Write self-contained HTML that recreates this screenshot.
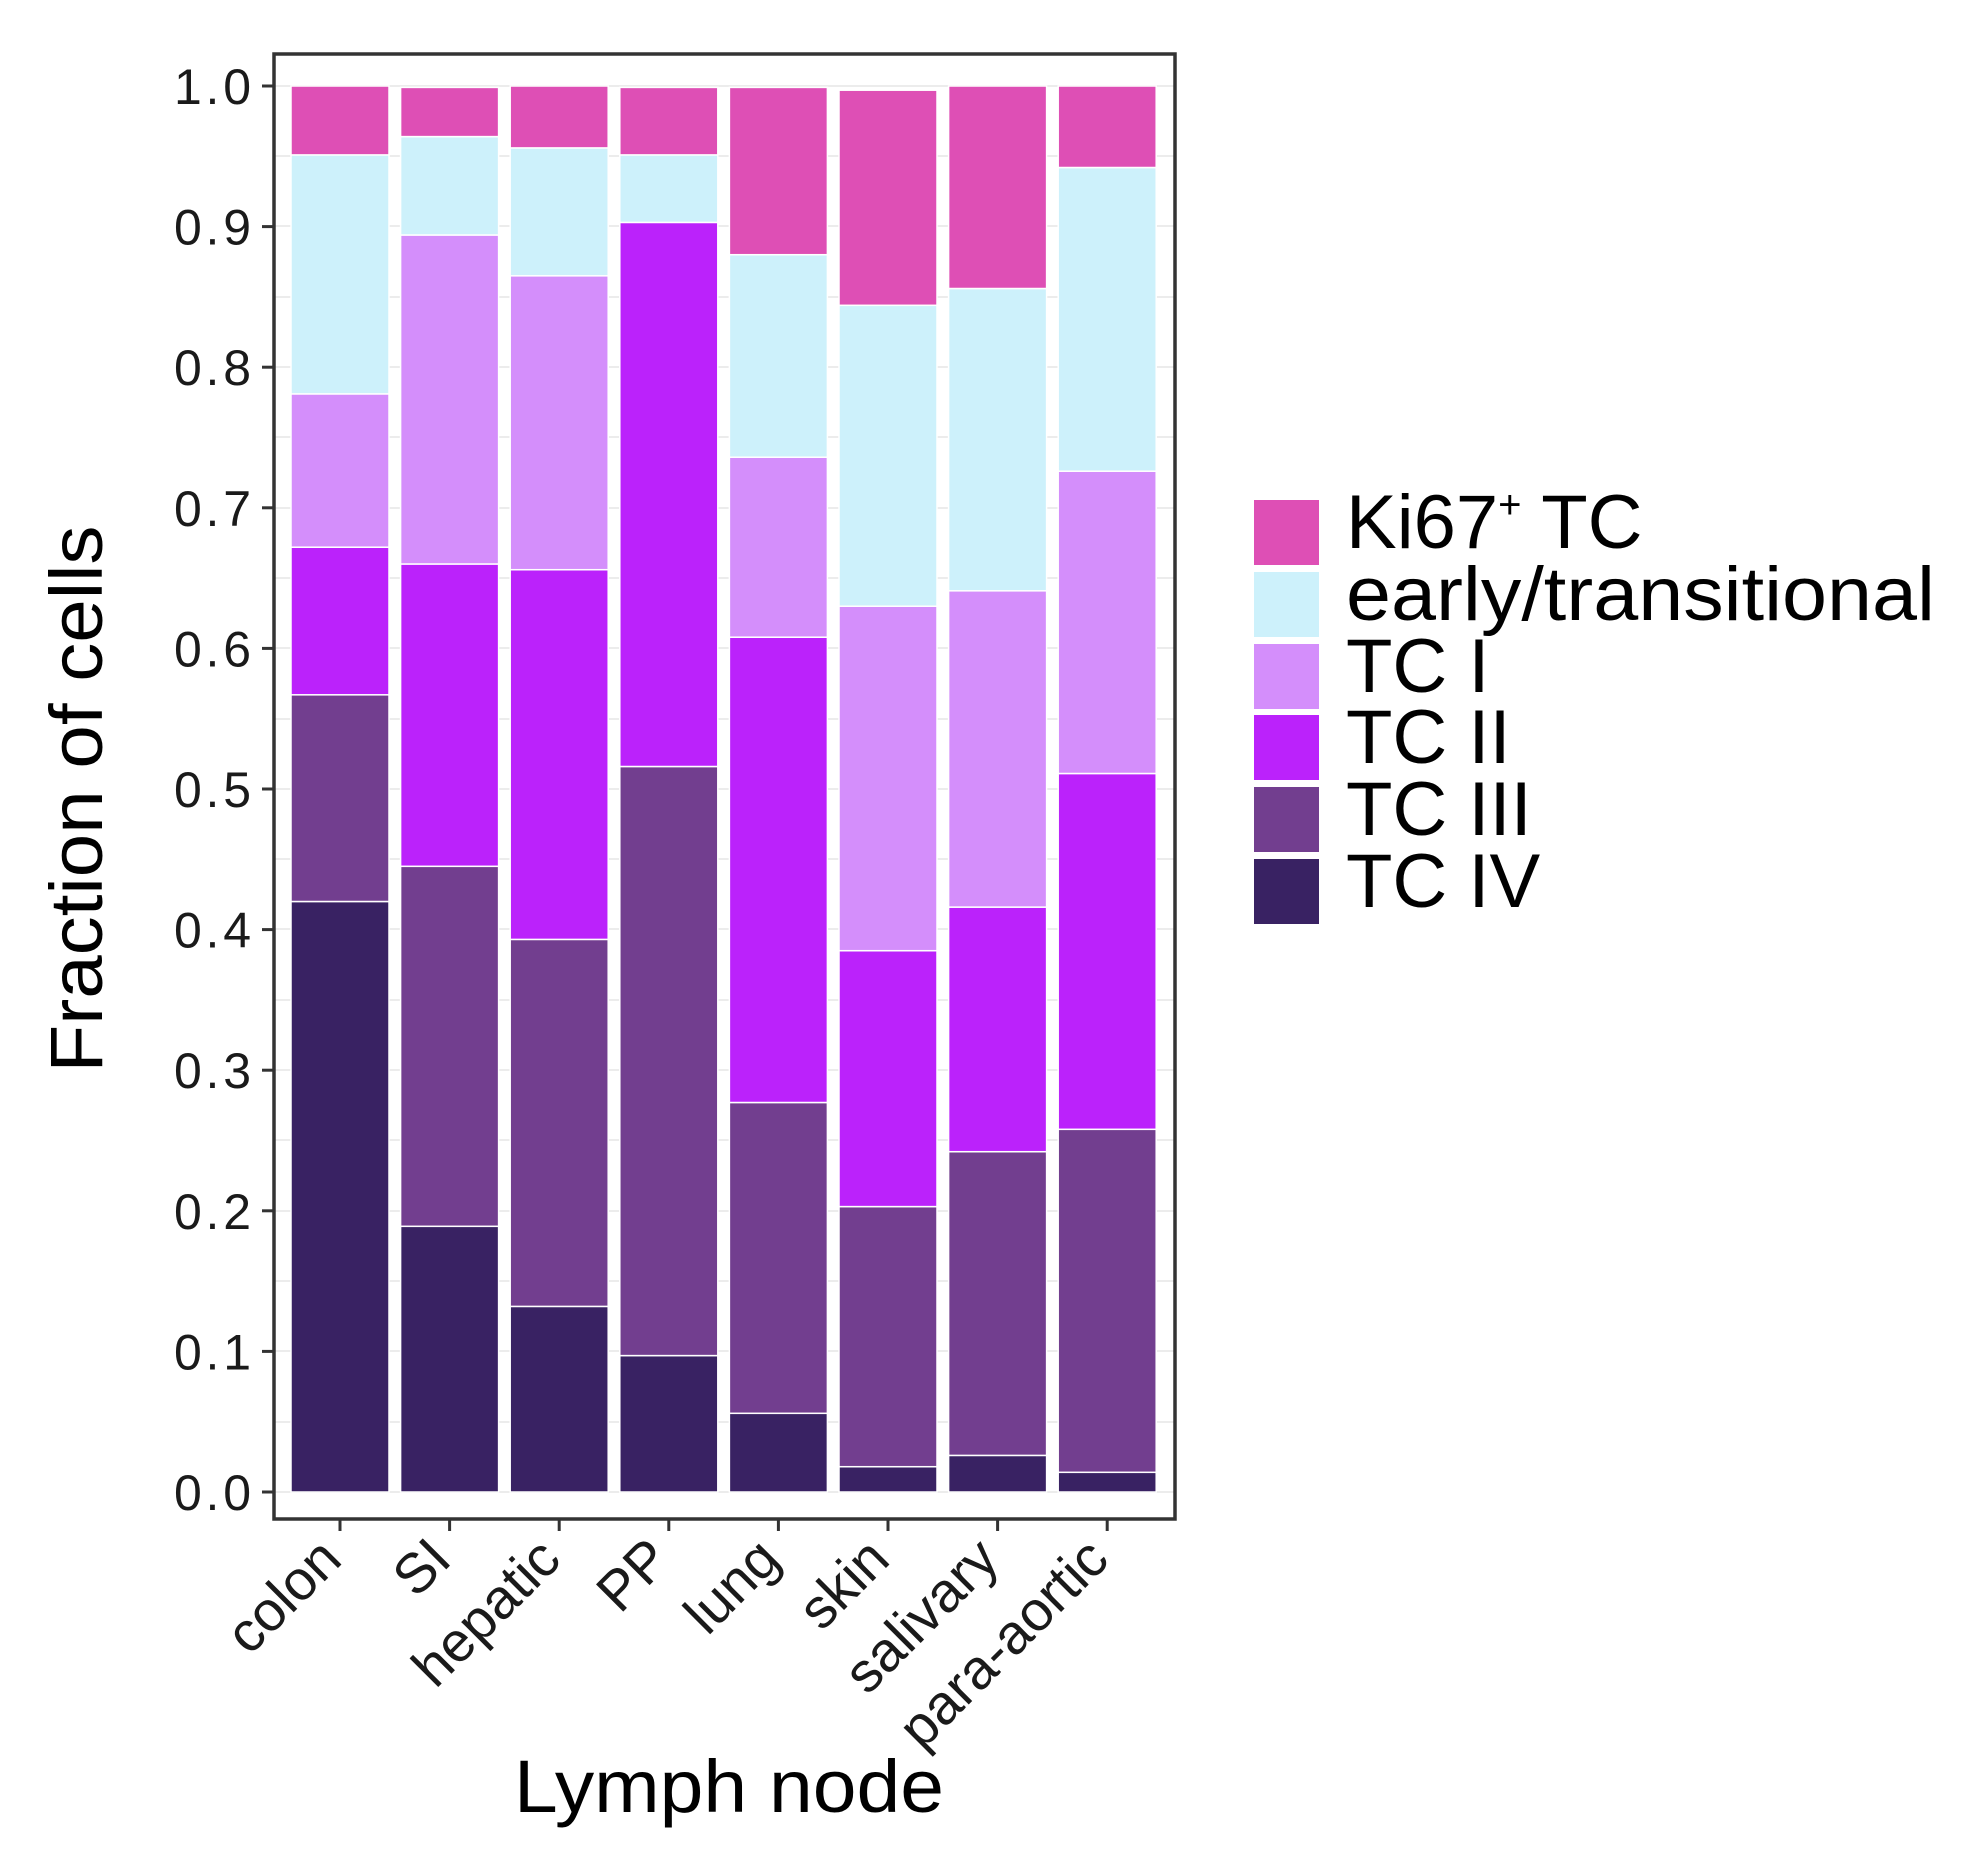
<!DOCTYPE html>
<html><head><meta charset="utf-8"><style>
html,body{margin:0;padding:0;background:#fff;}
svg{display:block;font-family:"Liberation Sans",Arial,sans-serif;}
</style></head><body>
<svg width="1962" height="1856" viewBox="0 0 1962 1856" xmlns="http://www.w3.org/2000/svg">
<rect width="1962" height="1856" fill="#fff"/>
<g stroke="#ececec" stroke-width="2">
<line x1="274" x2="1175" y1="1492" y2="1492"/><line x1="274" x2="1175" y1="1422" y2="1422"/>
<line x1="274" x2="1175" y1="1351" y2="1351"/><line x1="274" x2="1175" y1="1281" y2="1281"/>
<line x1="274" x2="1175" y1="1211" y2="1211"/><line x1="274" x2="1175" y1="1140" y2="1140"/>
<line x1="274" x2="1175" y1="1070" y2="1070"/><line x1="274" x2="1175" y1="1000" y2="1000"/>
<line x1="274" x2="1175" y1="929" y2="929"/><line x1="274" x2="1175" y1="859" y2="859"/>
<line x1="274" x2="1175" y1="789" y2="789"/><line x1="274" x2="1175" y1="719" y2="719"/>
<line x1="274" x2="1175" y1="648" y2="648"/><line x1="274" x2="1175" y1="578" y2="578"/>
<line x1="274" x2="1175" y1="508" y2="508"/><line x1="274" x2="1175" y1="437" y2="437"/>
<line x1="274" x2="1175" y1="367" y2="367"/><line x1="274" x2="1175" y1="297" y2="297"/>
<line x1="274" x2="1175" y1="226" y2="226"/><line x1="274" x2="1175" y1="156" y2="156"/>
<line x1="274" x2="1175" y1="86" y2="86"/>
</g>
<g stroke="#fff" stroke-width="1.5">
<g transform="translate(291,0)">
<rect y="901.5" width="98" height="590.5" fill="#392263"/>
<rect y="694.8" width="98" height="206.7" fill="#723e8f"/>
<rect y="547.2" width="98" height="147.6" fill="#bb22fb"/>
<rect y="393.9" width="98" height="153.3" fill="#d48efb"/>
<rect y="154.9" width="98" height="239" fill="#cdf1fb"/>
<rect y="86" width="98" height="68.9" fill="#de4fb5"/>
</g>
<g transform="translate(400.6,0)">
<rect y="1226.3" width="98" height="265.7" fill="#392263"/>
<rect y="866.3" width="98" height="360" fill="#723e8f"/>
<rect y="564" width="98" height="302.3" fill="#bb22fb"/>
<rect y="235" width="98" height="329" fill="#d48efb"/>
<rect y="136.6" width="98" height="98.4" fill="#cdf1fb"/>
<rect y="87.4" width="98" height="49.2" fill="#de4fb5"/>
</g>
<g transform="translate(510.2,0)">
<rect y="1306.4" width="98" height="185.6" fill="#392263"/>
<rect y="939.4" width="98" height="367" fill="#723e8f"/>
<rect y="569.7" width="98" height="369.7" fill="#bb22fb"/>
<rect y="275.8" width="98" height="293.9" fill="#d48efb"/>
<rect y="147.9" width="98" height="127.9" fill="#cdf1fb"/>
<rect y="86" width="98" height="61.9" fill="#de4fb5"/>
</g>
<g transform="translate(619.8,0)">
<rect y="1355.6" width="98" height="136.4" fill="#392263"/>
<rect y="766.5" width="98" height="589.1" fill="#723e8f"/>
<rect y="222.4" width="98" height="544.1" fill="#bb22fb"/>
<rect y="154.9" width="98" height="67.5" fill="#cdf1fb"/>
<rect y="87.4" width="98" height="67.5" fill="#de4fb5"/>
</g>
<g transform="translate(729.4,0)">
<rect y="1413.3" width="98" height="78.7" fill="#392263"/>
<rect y="1102.5" width="98" height="310.8" fill="#723e8f"/>
<rect y="637.2" width="98" height="465.3" fill="#bb22fb"/>
<rect y="457.2" width="98" height="180" fill="#d48efb"/>
<rect y="254.7" width="98" height="202.5" fill="#cdf1fb"/>
<rect y="87.4" width="98" height="167.3" fill="#de4fb5"/>
</g>
<g transform="translate(839,0)">
<rect y="1466.7" width="98" height="25.3" fill="#392263"/>
<rect y="1206.6" width="98" height="260.1" fill="#723e8f"/>
<rect y="950.7" width="98" height="255.9" fill="#bb22fb"/>
<rect y="606.2" width="98" height="344.5" fill="#d48efb"/>
<rect y="305.3" width="98" height="300.9" fill="#cdf1fb"/>
<rect y="90.2" width="98" height="215.1" fill="#de4fb5"/>
</g>
<g transform="translate(948.6,0)">
<rect y="1455.4" width="98" height="36.6" fill="#392263"/>
<rect y="1151.7" width="98" height="303.7" fill="#723e8f"/>
<rect y="907.1" width="98" height="244.6" fill="#bb22fb"/>
<rect y="590.8" width="98" height="316.3" fill="#d48efb"/>
<rect y="288.5" width="98" height="302.3" fill="#cdf1fb"/>
<rect y="86" width="98" height="202.5" fill="#de4fb5"/>
</g>
<g transform="translate(1058.2,0)">
<rect y="1472.3" width="98" height="19.7" fill="#392263"/>
<rect y="1129.3" width="98" height="343" fill="#723e8f"/>
<rect y="773.5" width="98" height="355.8" fill="#bb22fb"/>
<rect y="471.2" width="98" height="302.3" fill="#d48efb"/>
<rect y="167.5" width="98" height="303.7" fill="#cdf1fb"/>
<rect y="86" width="98" height="81.5" fill="#de4fb5"/>
</g>
</g>
<rect x="274" y="54" width="901" height="1465" fill="none" stroke="#333" stroke-width="3.5"/>
<g stroke="#333" stroke-width="3">
<line x1="262" x2="274" y1="1492" y2="1492"/><line x1="262" x2="274" y1="1351.4" y2="1351.4"/>
<line x1="262" x2="274" y1="1210.8" y2="1210.8"/><line x1="262" x2="274" y1="1070.2" y2="1070.2"/>
<line x1="262" x2="274" y1="929.6" y2="929.6"/><line x1="262" x2="274" y1="789" y2="789"/>
<line x1="262" x2="274" y1="648.4" y2="648.4"/><line x1="262" x2="274" y1="507.8" y2="507.8"/>
<line x1="262" x2="274" y1="367.2" y2="367.2"/><line x1="262" x2="274" y1="226.6" y2="226.6"/>
<line x1="262" x2="274" y1="86" y2="86"/>
<line x1="340" x2="340" y1="1519" y2="1531"/><line x1="449.6" x2="449.6" y1="1519" y2="1531"/>
<line x1="559.2" x2="559.2" y1="1519" y2="1531"/><line x1="668.8" x2="668.8" y1="1519" y2="1531"/>
<line x1="778.4" x2="778.4" y1="1519" y2="1531"/><line x1="888" x2="888" y1="1519" y2="1531"/>
<line x1="997.6" x2="997.6" y1="1519" y2="1531"/><line x1="1107.2" x2="1107.2" y1="1519" y2="1531"/>
</g>
<g font-size="50" fill="#1a1a1a" text-anchor="end" lengthAdjust="spacingAndGlyphs">
<text x="251" y="1510" textLength="77">0.0</text><text x="251" y="1369.4" textLength="77">0.1</text>
<text x="251" y="1228.8" textLength="77">0.2</text><text x="251" y="1088.2" textLength="77">0.3</text>
<text x="251" y="947.6" textLength="77">0.4</text><text x="251" y="807" textLength="77">0.5</text>
<text x="251" y="666.4" textLength="77">0.6</text><text x="251" y="525.8" textLength="77">0.7</text>
<text x="251" y="385.2" textLength="77">0.8</text><text x="251" y="244.6" textLength="77">0.9</text>
<text x="251" y="104" textLength="77">1.0</text>
</g>
<g font-size="56" fill="#1a1a1a" text-anchor="end">
<text transform="translate(344,1562) rotate(-45)">colon</text>
<text transform="translate(453.6,1562) rotate(-45)">SI</text>
<text transform="translate(563.2,1562) rotate(-45)">hepatic</text>
<text transform="translate(672.8,1562) rotate(-45)">PP</text>
<text transform="translate(782.4,1562) rotate(-45)">lung</text>
<text transform="translate(892,1562) rotate(-45)">skin</text>
<text transform="translate(1001.6,1562) rotate(-45)">salivary</text>
<text transform="translate(1111.2,1562) rotate(-45)">para-aortic</text>
</g>
<text transform="translate(102,799) rotate(-90)" text-anchor="middle" font-size="74" textLength="547" lengthAdjust="spacingAndGlyphs">Fraction of cells</text>
<text x="729" y="1812" text-anchor="middle" font-size="74" textLength="430" lengthAdjust="spacingAndGlyphs">Lymph node</text>
<g>
<rect x="1254" y="500" width="65" height="65" fill="#de4fb5"/>
<rect x="1254" y="572" width="65" height="65" fill="#cdf1fb"/>
<rect x="1254" y="644" width="65" height="65" fill="#d48efb"/>
<rect x="1254" y="715" width="65" height="65" fill="#bb22fb"/>
<rect x="1254" y="787" width="65" height="65" fill="#723e8f"/>
<rect x="1254" y="859" width="65" height="65" fill="#392263"/>
<g font-size="76" fill="#000">
<text x="1346" y="548">Ki67<tspan font-size="40" dy="-30">+</tspan><tspan dy="30"> TC</tspan></text>
<text x="1346" y="620" textLength="589" lengthAdjust="spacingAndGlyphs">early/transitional</text>
<text x="1346" y="692">TC I</text>
<text x="1346" y="763">TC II</text>
<text x="1346" y="835">TC III</text>
<text x="1346" y="907">TC IV</text>
</g></g>
</svg>
</body></html>
